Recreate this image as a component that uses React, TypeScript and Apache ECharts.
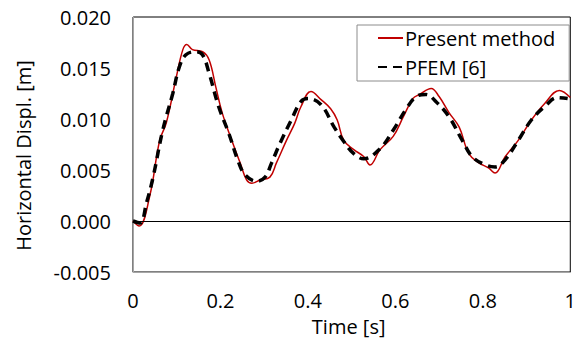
import React, { useEffect, useRef } from "react";
import * as echarts from "echarts";

const presentT = [0, 0.014, 0.038, 0.061, 0.076, 0.099, 0.114, 0.123, 0.136, 0.159, 0.174, 0.189, 0.204, 0.226, 0.245, 0.26, 0.272, 0.29, 0.313, 0.328, 0.351, 0.37, 0.384, 0.407, 0.43, 0.452, 0.467, 0.482, 0.505, 0.528, 0.542, 0.565, 0.595, 0.618, 0.64, 0.655, 0.682, 0.7, 0.723, 0.746, 0.768, 0.791, 0.813, 0.828, 0.851, 0.881, 0.911, 0.941, 0.975, 1.0];
const presentV = [0, -0.0005, 0.0024, 0.0079, 0.0096, 0.0141, 0.0168, 0.0173, 0.0168, 0.0166, 0.0158, 0.0132, 0.0106, 0.0079, 0.0057, 0.004, 0.0037, 0.004, 0.0043, 0.0057, 0.0079, 0.0096, 0.0112, 0.0127, 0.0119, 0.011, 0.0099, 0.0079, 0.007, 0.0063, 0.0055, 0.007, 0.0083, 0.0102, 0.012, 0.0124, 0.013, 0.0122, 0.0106, 0.0092, 0.0066, 0.0057, 0.0052, 0.0047, 0.0063, 0.0079, 0.0099, 0.0115, 0.0128, 0.0121];

const pfemT = [0, 0.016, 0.031, 0.046, 0.068, 0.091, 0.106, 0.121, 0.144, 0.159, 0.174, 0.196, 0.219, 0.242, 0.257, 0.283, 0.302, 0.317, 0.336, 0.362, 0.384, 0.4, 0.43, 0.46, 0.482, 0.505, 0.528, 0.565, 0.595, 0.625, 0.648, 0.67, 0.693, 0.723, 0.753, 0.776, 0.806, 0.828, 0.851, 0.881, 0.911, 0.941, 0.971, 0.994];
const pfemV = [0, -0.0002, 0.0018, 0.0043, 0.0089, 0.0125, 0.0151, 0.0163, 0.0166, 0.0163, 0.0145, 0.0112, 0.0086, 0.0057, 0.0045, 0.0039, 0.0043, 0.0057, 0.0076, 0.0099, 0.0117, 0.012, 0.0114, 0.0092, 0.0078, 0.0066, 0.0061, 0.0071, 0.0089, 0.011, 0.0122, 0.0124, 0.0117, 0.0102, 0.0079, 0.0063, 0.0055, 0.0053, 0.006, 0.0079, 0.0099, 0.0112, 0.0121, 0.012];

const seriesNames = ["Present method", "PFEM [6]"];
const FONT = "Open Sans";
const FS = 20;

export default function App() {
  const ref = useRef<HTMLDivElement>(null);
  useEffect(() => {
    const chart = echarts.init(ref.current!, null, { renderer: "svg" });
    chart.setOption({
      animation: false,
      backgroundColor: "#ffffff",
      textStyle: { fontFamily: FONT },
      grid: {
        left: 133,
        right: 3,
        top: 17,
        bottom: 71,
        show: true,
        borderColor: "#000000",
        borderWidth: 1,
        backgroundColor: "transparent",
      },
      legend: {
        data: seriesNames,
        orient: "vertical",
        left: 357,
        top: 25,
        padding: [2, 14, 3, 20],
        itemGap: 7,
        itemWidth: 25,
        itemHeight: 14,
        borderColor: "#8c8c8c",
        borderWidth: 1,
        backgroundColor: "#ffffff",
        itemStyle: { opacity: 0 },
        textStyle: {
          fontFamily: FONT,
          fontSize: FS,
          lineHeight: 22,
          color: "#000000",
          padding: [0, 0, 0, -3],
        },
      },
      xAxis: {
        type: "value",
        min: 0,
        max: 1,
        interval: 0.2,
        name: "Time [s]",
        nameLocation: "middle",
        nameGap: 44,
        nameTextStyle: { fontFamily: FONT, fontSize: FS, color: "#000000", padding: [0, 6, 0, 0] },
        axisLine: { onZero: false, lineStyle: { color: "#a6a6a6", width: 1 } },
        axisTick: { show: false },
        splitLine: { show: false },
        axisLabel: { fontFamily: FONT, fontSize: FS, color: "#000000", margin: 18 },
      },
      yAxis: {
        type: "value",
        min: -0.005,
        max: 0.02,
        interval: 0.005,
        name: "Horizontal Displ. [m]",
        nameLocation: "middle",
        nameGap: 100,
        nameTextStyle: { fontFamily: FONT, fontSize: FS, color: "#000000", padding: [0, 22, 0, 0] },
        axisLine: { show: true, lineStyle: { color: "#a6a6a6", width: 1 } },
        axisTick: { show: false },
        splitLine: { show: false },
        axisLabel: {
          fontFamily: FONT,
          fontSize: FS,
          color: "#000000",
          margin: 22,
          formatter: (v: number) => v.toFixed(3),
        },
      },
      series: [
        {
          name: seriesNames[0],
          type: "line",
          data: presentT.map((t, i) => [t, presentV[i]]),
          symbol: "none",
          smooth: 0.4,
          lineStyle: { color: "#c00000", width: 1.5 },
          itemStyle: { color: "#c00000" },
          markLine: {
            silent: true,
            symbol: "none",
            label: { show: false },
            lineStyle: { color: "#000000", width: 1, type: "solid" },
            data: [{ yAxis: 0 }],
          },
          z: 2,
        },
        {
          name: seriesNames[1],
          type: "line",
          data: pfemT.map((t, i) => [t, pfemV[i]]),
          symbol: "none",
          smooth: 0.4,
          lineStyle: { color: "#000000", width: 3.5, type: [9, 6] },
          itemStyle: { color: "#000000" },
          z: 3,
        },
      ],
    });
    return () => chart.dispose();
  }, []);
  return (
    <div
      ref={ref}
      style={{ position: "absolute", left: 0, top: 0, width: 579, height: 343 }}
    />
  );
}
